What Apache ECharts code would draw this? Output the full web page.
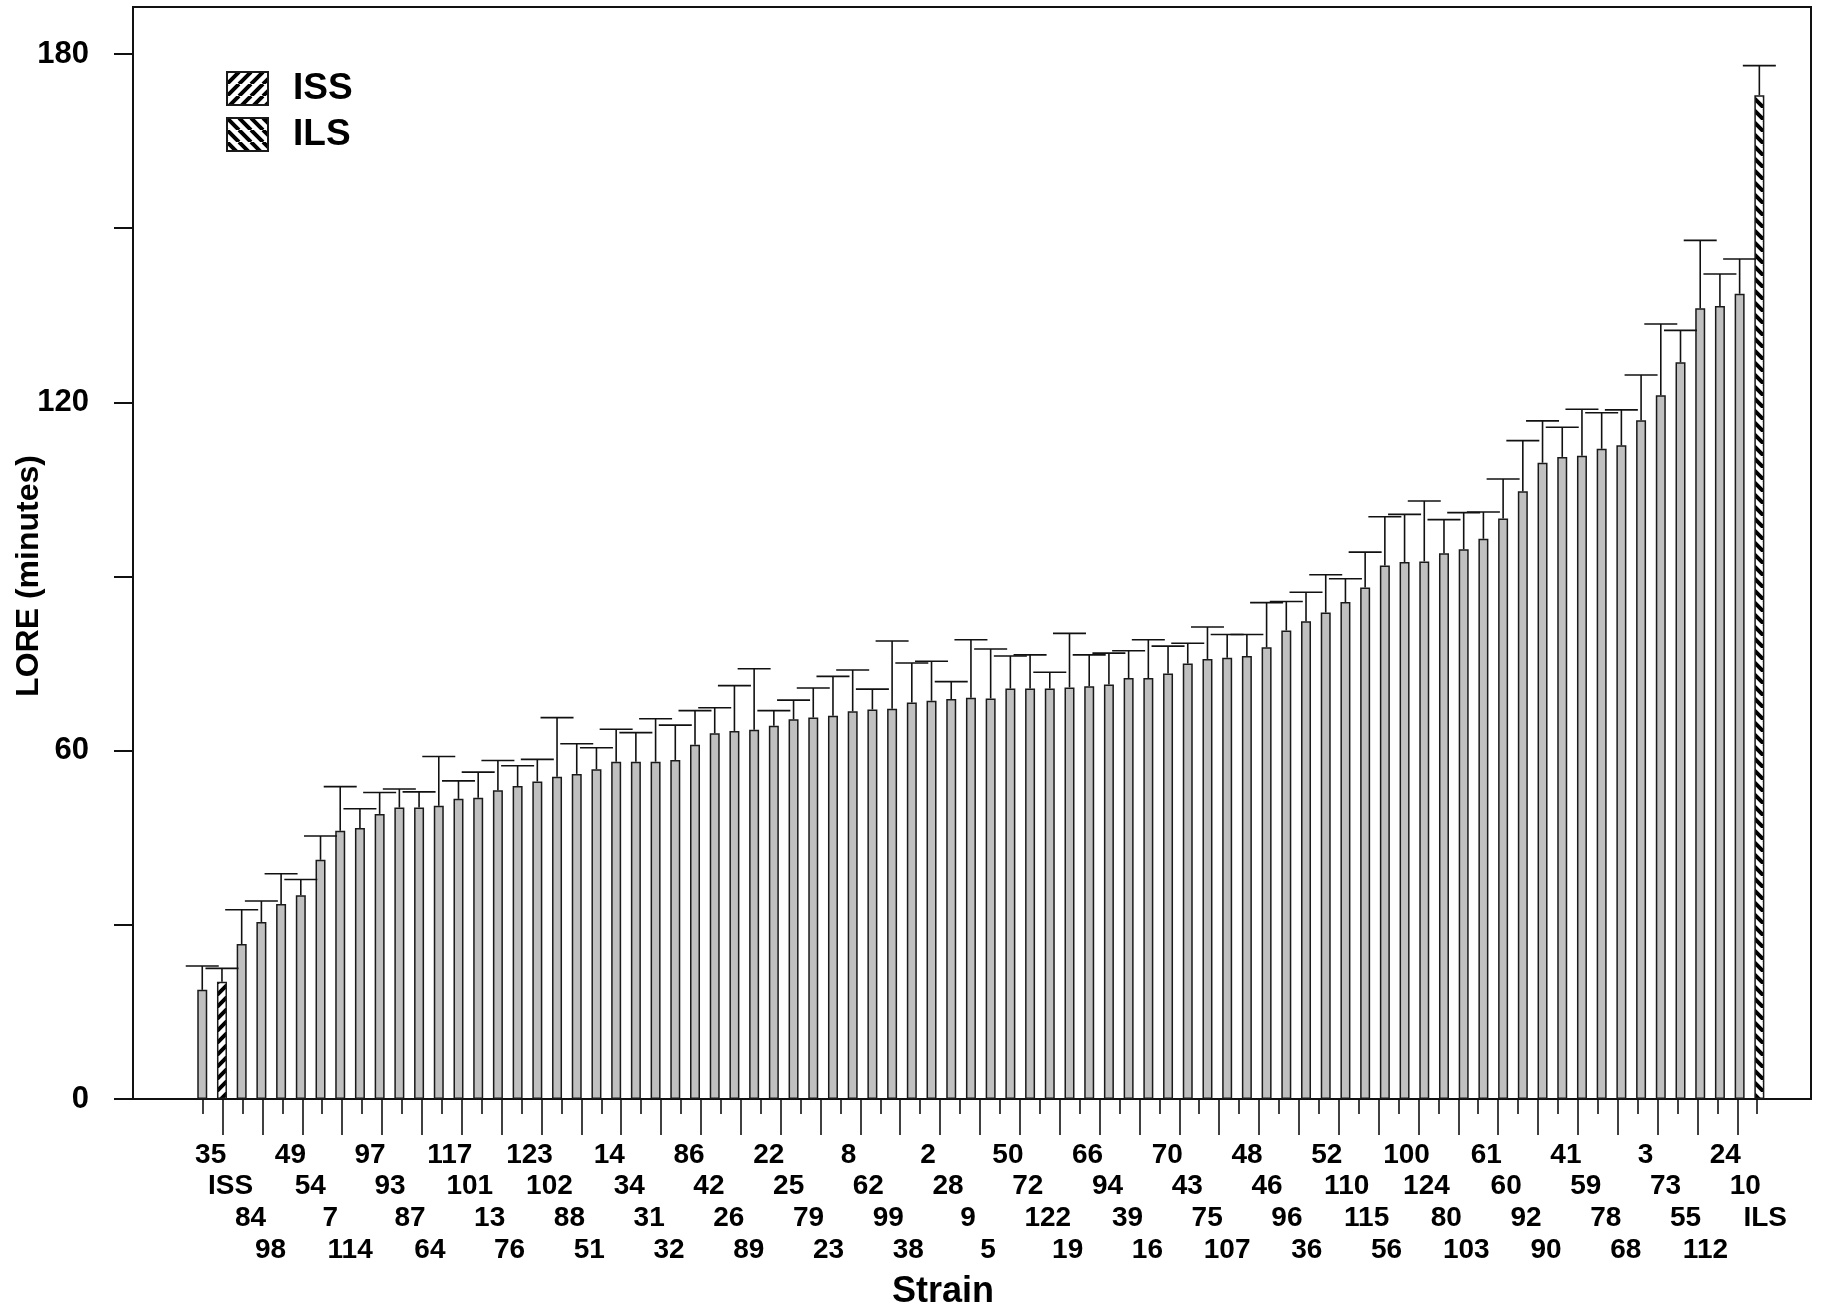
<!DOCTYPE html>
<html>
<head>
<meta charset="utf-8">
<script src="https://cdn.jsdelivr.net/npm/echarts@6/dist/echarts.min.js"></script>
<style>
  html, body { margin: 0; padding: 0; background: #fff; }
  #chart { width: 1830px; height: 1313px; }
</style>
</head>
<body>
<div id="chart"></div>
<script>
// Strain names along the bottom, in plotting order (staggered over four rows)
const strains = ['35','ISS','84','98','49','54','7','114','97','93','87','64','117','101','13','76',
  '123','102','88','51','14','34','31','32','86','42','26','89','22','25','79','23','8','62','99','38',
  '2','28','9','5','50','72','122','19','66','94','39','16','70','43','75','107','48','46','96','36',
  '52','110','115','56','100','124','80','103','61','60','92','90','41','59','78','68','3','73','55',
  '112','24','10','ILS'];

// Mean loss-of-righting-reflex duration (minutes), one per bar
const lore = [18.8, 20.2, 26.7, 30.5, 33.6, 35.1, 41.2, 46.2, 46.7, 49.1, 50.2, 50.2, 50.5, 51.7, 51.9, 53.2,
  53.9, 54.7, 55.5, 56.0, 56.8, 58.1, 58.1, 58.1, 58.4, 61.0, 63.0, 63.4, 63.6, 64.3, 65.4, 65.7,
  66.0, 66.8, 67.1, 67.2, 68.3, 68.6, 68.9, 69.1, 69.0, 70.7, 70.7, 70.7, 70.9, 71.1, 71.4, 72.5,
  72.5, 73.3, 75.0, 75.8, 76.0, 76.3, 77.8, 80.7, 82.3, 83.8, 85.6, 88.1, 91.9, 92.5, 92.6, 94.0,
  94.7, 96.5, 100.0, 104.7, 109.6, 110.6, 110.8, 112.0, 112.6, 116.9, 121.2, 126.9, 136.2, 136.6,
  138.7, 172.9];

// Upper end of each error bar (mean + SEM), minutes
const loreUpper = [22.9, 22.5, 32.6, 34.1, 38.8, 37.8, 45.3, 53.8, 50.0, 52.8, 53.4, 52.9, 59.0, 54.8, 56.3, 58.3,
  57.4, 58.5, 65.7, 61.2, 60.5, 63.7, 63.1, 65.5, 64.4, 66.9, 67.4, 71.2, 74.1, 66.9, 68.7, 70.8,
  72.8, 73.9, 70.6, 78.9, 75.1, 75.4, 71.9, 79.1, 77.5, 76.3, 76.5, 73.5, 80.2, 76.5, 76.8, 77.2,
  79.1, 78.0, 78.5, 81.3, 80.0, 80.0, 85.5, 85.7, 87.3, 90.3, 89.6, 94.2, 100.3, 100.7, 103.0, 99.8,
  101.0, 101.1, 106.8, 113.4, 116.8, 115.7, 118.8, 118.2, 118.7, 124.7, 133.5, 132.4, 147.9, 142.1,
  144.7, 178.0];

// Which bars are the two selected parental lines
const issBar = 1;
const ilsBar = lore.length - 1;

// Y axis: ticks every 30 min, numbers only on these
const yTickLabels = ['0', '60', '120', '180'];

const FONT = '"Liberation Sans", Arial, Helvetica, sans-serif';

// Diagonal hatch tile: dir = 1 gives '/', dir = -1 gives '\'
function hatch(dir) {
  const s = 12;
  const c = document.createElement('canvas');
  c.width = s; c.height = s;
  const g = c.getContext('2d');
  g.fillStyle = '#fff';
  g.fillRect(0, 0, s, s);
  g.strokeStyle = '#000';
  g.lineWidth = 4;
  g.beginPath();
  for (let o = -s; o <= s; o += s) {
    if (dir > 0) { g.moveTo(o, s); g.lineTo(o + s, 0); }
    else { g.moveTo(o, 0); g.lineTo(o + s, s); }
  }
  g.stroke();
  return c;
}

const barStyle = { borderColor: '#1a1a1a', borderWidth: 1.5 };
const onlyAt = idx => lore.map((v, i) => (i === idx ? v : '-'));

// bottom label axes: one per staggered row, ticks alternate short/long
const rowMargins = [56, 87, 119, 151];
const labelAxes = rowMargins.map((m, r) => ({
  gridIndex: 2,
  type: 'category',
  data: strains,
  position: 'bottom',
  axisLine: { show: false },
  axisTick: {
    show: r < 2,
    alignWithLabel: true,
    length: r === 0 ? 15 : 36,
    interval: (i) => i % 2 === r,
    lineStyle: { color: '#111', width: 1.6 }
  },
  axisLabel: {
    interval: (i) => i % 4 === r,
    margin: m,
    verticalAlign: 'middle',
    padding: [0, 0, 0, 16],
    fontSize: 28,
    fontWeight: 'bold',
    fontFamily: FONT,
    color: '#000'
  }
}));

const chart = echarts.init(document.getElementById('chart'), null, { renderer: 'canvas' });

chart.setOption({
  animation: false,
  backgroundColor: '#fff',
  grid: [
    // outer frame
    { left: 133, top: 7, width: 1678, height: 1092, show: true, borderColor: '#111', borderWidth: 2, backgroundColor: 'transparent' },
    // bars
    { left: 192.4, top: 54, width: 1576.8, height: 1045 },
    // strain labels
    { left: 192.7, top: 54, width: 1574.5, height: 1045 }
  ],
  xAxis: [
    { gridIndex: 0, type: 'value', show: false },
    { gridIndex: 1, type: 'category', data: lore.map((_, i) => String(i + 1)), show: false },
    ...labelAxes
  ],
  yAxis: [
    { gridIndex: 0, type: 'value', show: false },
    {
      gridIndex: 1, type: 'value', min: 0, max: 180, interval: 30, offset: 59.4,
      axisLine: { show: false },
      axisTick: { show: true, length: 19, lineStyle: { color: '#111', width: 2 } },
      splitLine: { show: false },
      axisLabel: {
        margin: 44, fontSize: 31, fontWeight: 'bold', fontFamily: FONT, color: '#000',
        formatter: v => (yTickLabels.includes(String(v)) ? String(v) : '')
      }
    },
    { gridIndex: 2, type: 'value', min: 0, max: 180, show: false }
  ],
  legend: {
    data: ['ISS', 'ILS'],
    orient: 'vertical',
    left: 226, top: 70,
    padding: 0,
    itemWidth: 41, itemHeight: 33, itemGap: 9,
    icon: 'rect',
    selectedMode: false,
    textStyle: { fontSize: 37, fontWeight: 'bold', fontFamily: FONT, color: '#000', padding: [0, 0, 0, 20], lineHeight: 33 }
  },
  series: [
    {
      name: 'LXS', type: 'bar', xAxisIndex: 1, yAxisIndex: 1, barWidth: 10, barGap: '-100%',
      data: lore.map((v, i) => (i === issBar || i === ilsBar ? '-' : v)),
      itemStyle: Object.assign({ color: '#c0c0c0' }, barStyle)
    },
    {
      name: 'ISS', type: 'bar', xAxisIndex: 1, yAxisIndex: 1, barWidth: 10, barGap: '-100%',
      data: onlyAt(issBar),
      itemStyle: Object.assign({ color: { image: hatch(1), repeat: 'repeat' } }, barStyle)
    },
    {
      name: 'ILS', type: 'bar', xAxisIndex: 1, yAxisIndex: 1, barWidth: 10, barGap: '-100%',
      data: onlyAt(ilsBar),
      itemStyle: Object.assign({ color: { image: hatch(-1), repeat: 'repeat' } }, barStyle)
    },
    {
      name: 'SEM', type: 'custom', xAxisIndex: 1, yAxisIndex: 1, z: 5,
      data: lore.map((v, i) => [i, v, loreUpper[i]]),
      encode: { x: 0, y: 2 },
      renderItem: (params, api) => {
        const i = api.value(0);
        const base = api.coord([i, api.value(1)]);
        const top = api.coord([i, api.value(2)]);
        const half = 16.5;
        const st = { stroke: '#111', lineWidth: 1.6 };
        return {
          type: 'group',
          children: [
            { type: 'line', shape: { x1: base[0], y1: base[1], x2: top[0], y2: top[1] }, style: st },
            { type: 'line', shape: { x1: top[0] - half, y1: top[1], x2: top[0] + half, y2: top[1] }, style: st }
          ]
        };
      }
    }
  ],
  graphic: [
    {
      type: 'text', x: 943, y: 1292,
      style: { text: 'Strain', font: 'bold 36px ' + FONT, fill: '#000', align: 'center', verticalAlign: 'middle' }
    },
    {
      type: 'text', x: 29, y: 576, rotation: Math.PI / 2,
      style: { text: 'LORE (minutes)', font: 'bold 32px ' + FONT, fill: '#000', align: 'center', verticalAlign: 'middle' }
    }
  ]
});
</script>
</body>
</html>
